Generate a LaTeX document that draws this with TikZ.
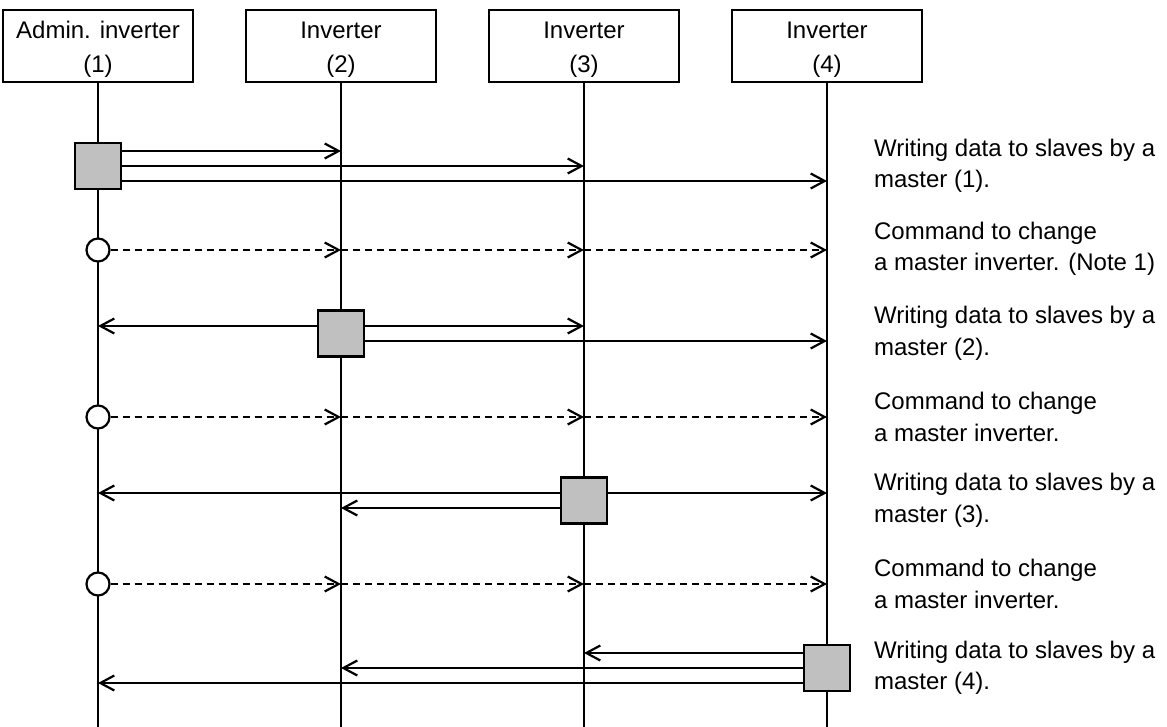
\documentclass[tikz,border=0pt]{standalone}
\usepackage{fontspec}
\setmainfont{Liberation Sans}
\usepackage{tikz}
\usetikzlibrary{positioning,calc,arrows.meta}

\definecolor{actgray}{RGB}{192,192,192}

\begin{document}
\begin{tikzpicture}[x=0.5pt, y=-0.5pt, line width=1.1pt, >={Straight Barb[length=7pt,width=7.5pt]}, node distance=25.4pt, box/.style = {draw, fill=white, minimum width=95pt, minimum height=36pt, align=center, font=\fontsize{12}{17}\selectfont, inner sep=0pt}, act/.style = {draw, fill=actgray, minimum size=23pt, inner sep=0pt}, cmd/.style = {circle, draw, fill=white, minimum size=11.5pt, inner sep=0pt}, msg/.style = {->}, dmsg/.style = {->, dash pattern=on 3.5pt off 2.5pt}, note/.style = {anchor=west, align=left, inner sep=0pt, font=\fontsize{12}{15.75}\selectfont}]

\useasboundingbox (0,0) rectangle (1167,727);

\node[box] (A1) at (98,46) {\strut Admin. inverter\\(1)};
\node[box] (A2) [right=of A1] {\strut Inverter\\(2)};
\node[box] (A3) [right=of A2] {\strut Inverter\\(3)};
\node[box] (A4) [right=of A3] {\strut Inverter\\(4)};

\coordinate (b1) at (A1.south |- 0,727);
\coordinate (b2) at (A2.south |- 0,727);
\coordinate (b3) at (A3.south |- 0,727);
\coordinate (b4) at (A4.south |- 0,727);

\path
    (A1) edge (b1)
    (A2) edge (b2)
    (A3) edge (b3)
    (A4) edge (b4);

% master (1)
\node[act] (m1) at (b1 |- 0,166) {};
\draw[msg] ($(m1.east)+(0,7.5pt)$) -- ($(b2 |- m1.east)+(0,7.5pt)$);
\draw[msg] (m1.east) -- (b3 |- m1.east);
\draw[msg] ($(m1.east)+(0,-7.5pt)$) -- ($(b4 |- m1.east)+(0,-7.5pt)$);

% change command
\node[cmd] (c1) at (b1 |- 0,250) {};
\draw[dmsg] (c1.east) -- (b2 |- c1);
\draw[dmsg] (b2 |- c1) -- (b3 |- c1);
\draw[dmsg] (b3 |- c1) -- (b4 |- c1);

% master (2)
\node[act] (m2) at (b2 |- 0,333.5) {};
\draw[msg] ($(m2.west)+(0,3.75pt)$) -- ($(b1 |- m2.west)+(0,3.75pt)$);
\draw[msg] ($(m2.east)+(0,3.75pt)$) -- ($(b3 |- m2.east)+(0,3.75pt)$);
\draw[msg] ($(m2.east)+(0,-3.75pt)$) -- ($(b4 |- m2.east)+(0,-3.75pt)$);

\node[cmd] (c2) at (b1 |- 0,417) {};
\draw[dmsg] (c2.east) -- (b2 |- c2);
\draw[dmsg] (b2 |- c2) -- (b3 |- c2);
\draw[dmsg] (b3 |- c2) -- (b4 |- c2);

% master (3)
\node[act] (m3) at (b3 |- 0,500.5) {};
\draw[msg] ($(m3.west)+(0,3.75pt)$) -- ($(b1 |- m3.west)+(0,3.75pt)$);
\draw[msg] ($(m3.east)+(0,3.75pt)$) -- ($(b4 |- m3.east)+(0,3.75pt)$);
\draw[msg] ($(m3.west)+(0,-3.75pt)$) -- ($(b2 |- m3.west)+(0,-3.75pt)$);

\node[cmd] (c3) at (b1 |- 0,584) {};
\draw[dmsg] (c3.east) -- (b2 |- c3);
\draw[dmsg] (b2 |- c3) -- (b3 |- c3);
\draw[dmsg] (b3 |- c3) -- (b4 |- c3);

% master (4)
\node[act] (m4) at (b4 |- 0,668) {};
\draw[msg] ($(m4.west)+(0,7.5pt)$) -- ($(b3 |- m4.west)+(0,7.5pt)$);
\draw[msg] (m4.west) -- (b2 |- m4.west);
\draw[msg] ($(m4.west)+(0,-7.5pt)$) -- ($(b1 |- m4.west)+(0,-7.5pt)$);

% notes
\node[note] (t1) at (873,166) {Writing data to slaves by a\\master (1).};
\node[note] (t2) at (873,249) {Command to change\\a master inverter. (Note 1)};
\node[note] (t3) at (873,333.5) {Writing data to slaves by a\\master (2).};
\node[note] (t4) at (873,417) {Command to change\\a master inverter.};
\node[note] (t5) at (873,500.5) {Writing data to slaves by a\\master (3).};
\node[note] (t6) at (873,584) {Command to change\\a master inverter.};
\node[note] (t7) at (873,668) {Writing data to slaves by a\\master (4).};
\end{tikzpicture}
\end{document}
